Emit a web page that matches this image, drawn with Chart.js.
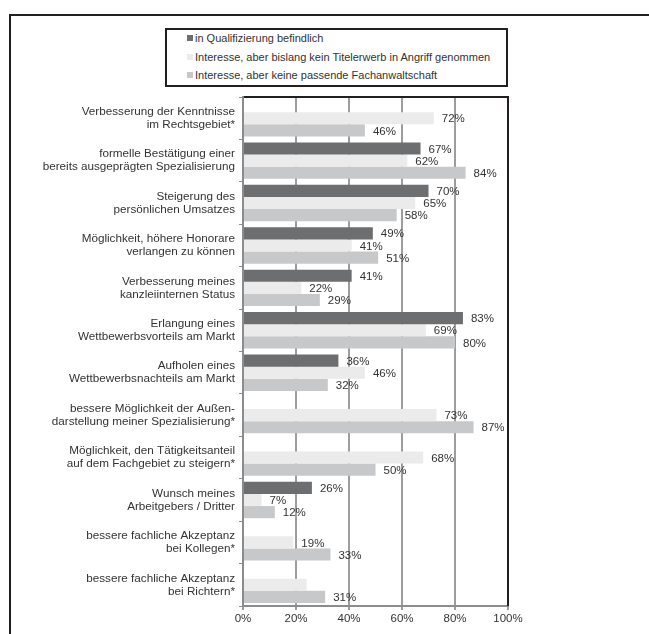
<!DOCTYPE html>
<html lang="de">
<head>
<meta charset="UTF-8">
<title>Motive für den Erwerb eines Fachanwaltstitels</title>
<script src="https://cdn.jsdelivr.net/npm/chart.js"></script>
<style>
    body { margin: 0; background: #fff; font-family: 'Liberation Sans', Arial, sans-serif; }
    .wrap { position: relative; width: 649px; height: 634px; }
    #legend {
        position: absolute; left: 165px; top: 28px; width: 343px; height: 59px;
        box-sizing: border-box; border: 2px solid #231f20; background: #fff;
    }
    .item { position: absolute; left: 20px; font-size: 11px; color: #333; line-height: 13px; white-space: nowrap; }
    .item span.box { display: inline-block; width: 6px; height: 6px; margin-right: 2px; vertical-align: 1px; }
</style>
</head>
<body>
<div class="wrap">
    <canvas id="chart" width="649" height="634"></canvas>
    <div id="legend"></div>
</div>
<script>
const categories = [
    ['Verbesserung der Kenntnisse', 'im Rechtsgebiet*'],
    ['formelle Bestätigung einer', 'bereits ausgeprägten Spezialisierung'],
    ['Steigerung des', 'persönlichen Umsatzes'],
    ['Möglichkeit, höhere Honorare', 'verlangen zu können'],
    ['Verbesserung meines', 'kanzleiinternen Status'],
    ['Erlangung eines', 'Wettbewerbsvorteils am Markt'],
    ['Aufholen eines', 'Wettbewerbsnachteils am Markt'],
    ['bessere Möglichkeit der Außen-', 'darstellung meiner Spezialisierung*'],
    ['Möglichkeit, den Tätigkeitsanteil', 'auf dem Fachgebiet zu steigern*'],
    ['Wunsch meines', 'Arbeitgebers / Dritter'],
    ['bessere fachliche Akzeptanz', 'bei Kollegen*'],
    ['bessere fachliche Akzeptanz', 'bei Richtern*']
];

const seriesNames = [
    'in Qualifizierung befindlich',
    'Interesse, aber bislang kein Titelerwerb in Angriff genommen',
    'Interesse, aber keine passende Fachanwaltschaft'
];
const seriesColors = ['#6d6e70', '#ebebeb', '#c7c8ca'];

const inQualifizierung = [null, 67, 70, 49, 41, 83, 36, null, null, 26, null, null];
const keinTitelerwerb  = [72, 62, 65, 41, 22, 69, 46, 73, 68, 7, 19, 24];
const keinePassende    = [46, 84, 58, 51, 29, 80, 32, 87, 50, 12, 33, 31];

// bars printed without a value label: [datasetIndex, categoryIndex]
const unlabeled = [[1, 11]];

const xTicks = [0, 20, 40, 60, 80, 100];

// legend box
const legend = document.getElementById('legend');
const rowTops = [2, 21, 39];
seriesNames.forEach(function(name, i) {
    const d = document.createElement('div');
    d.className = 'item';
    d.style.top = rowTops[i] + 'px';
    d.innerHTML = '<span class="box" style="background:' + seriesColors[i] + '"></span>' + name;
    legend.appendChild(d);
});

// outer frame (top + left) and the dark top/right border of the plot
const frame = {
    id: 'frame',
    beforeDraw(chart) {
        const ctx = chart.ctx;
        ctx.save();
        ctx.strokeStyle = '#231f20';
        ctx.lineWidth = 2;
        ctx.beginPath();
        ctx.moveTo(649, 15);
        ctx.lineTo(10, 15);
        ctx.lineTo(10, 634);
        ctx.stroke();
        ctx.restore();
    },
    afterDraw(chart) {
        const a = chart.chartArea, ctx = chart.ctx;
        ctx.save();
        ctx.strokeStyle = '#231f20';
        ctx.lineWidth = 2;
        ctx.beginPath();
        ctx.moveTo(a.left + 1, a.top);
        ctx.lineTo(a.right, a.top);
        ctx.lineTo(a.right, a.bottom);
        ctx.stroke();
        ctx.restore();
    }
};

// value labels right of each bar
const valueLabels = {
    id: 'valueLabels',
    afterDatasetsDraw(chart) {
        const ctx = chart.ctx;
        ctx.save();
        ctx.font = '11.5px "Liberation Sans", Arial, sans-serif';
        ctx.fillStyle = '#333';
        ctx.textAlign = 'left';
        ctx.textBaseline = 'middle';
        chart.data.datasets.forEach(function(ds, di) {
            chart.getDatasetMeta(di).data.forEach(function(bar, i) {
                const v = ds.data[i];
                if (v === null) return;
                if (unlabeled.some(function(u) { return u[0] === di && u[1] === i; })) return;
                ctx.fillText(v + '%', bar.x + 8, bar.y + 1);
            });
        });
        ctx.restore();
    }
};

Chart.defaults.font.family = '"Liberation Sans", Arial, sans-serif';
Chart.defaults.font.size = 11;
Chart.defaults.color = '#333';

new Chart(document.getElementById('chart'), {
    type: 'bar',
    data: {
        labels: categories,
        datasets: [inQualifizierung, keinTitelerwerb, keinePassende].map(function(vals, i) {
            return {
                label: seriesNames[i],
                data: vals,
                backgroundColor: seriesColors[i],
                borderWidth: 0,
                categoryPercentage: 0.86,
                barPercentage: 1.0
            };
        })
    },
    options: {
        indexAxis: 'y',
        responsive: false,
        animation: false,
        layout: { padding: { top: 97, right: 141, bottom: 0, left: 0 } },
        plugins: {
            legend: { display: false },
            tooltip: { enabled: false }
        },
        scales: {
            x: {
                min: 0,
                max: 100,
                afterBuildTicks(scale) { scale.ticks = xTicks.map(function(v) { return { value: v }; }); },
                afterFit(scale) { scale.height = 28; },
                ticks: { padding: 2, font: { size: 11.5 }, callback: function(v) { return v + '%'; } },
                grid: { color: '#9d9d9d', lineWidth: 2, tickLength: 4 },
                border: { color: '#8c8c8c', width: 2 }
            },
            y: {
                afterFit(scale) { scale.width = 243; },
                ticks: { padding: 4, font: { size: 11.7, lineHeight: 1.11 } },
                grid: { drawOnChartArea: false, tickLength: 4, color: '#8c8c8c' },
                border: { color: '#8c8c8c', width: 2 }
            }
        }
    },
    plugins: [frame, valueLabels]
});
</script>
</body>
</html>
